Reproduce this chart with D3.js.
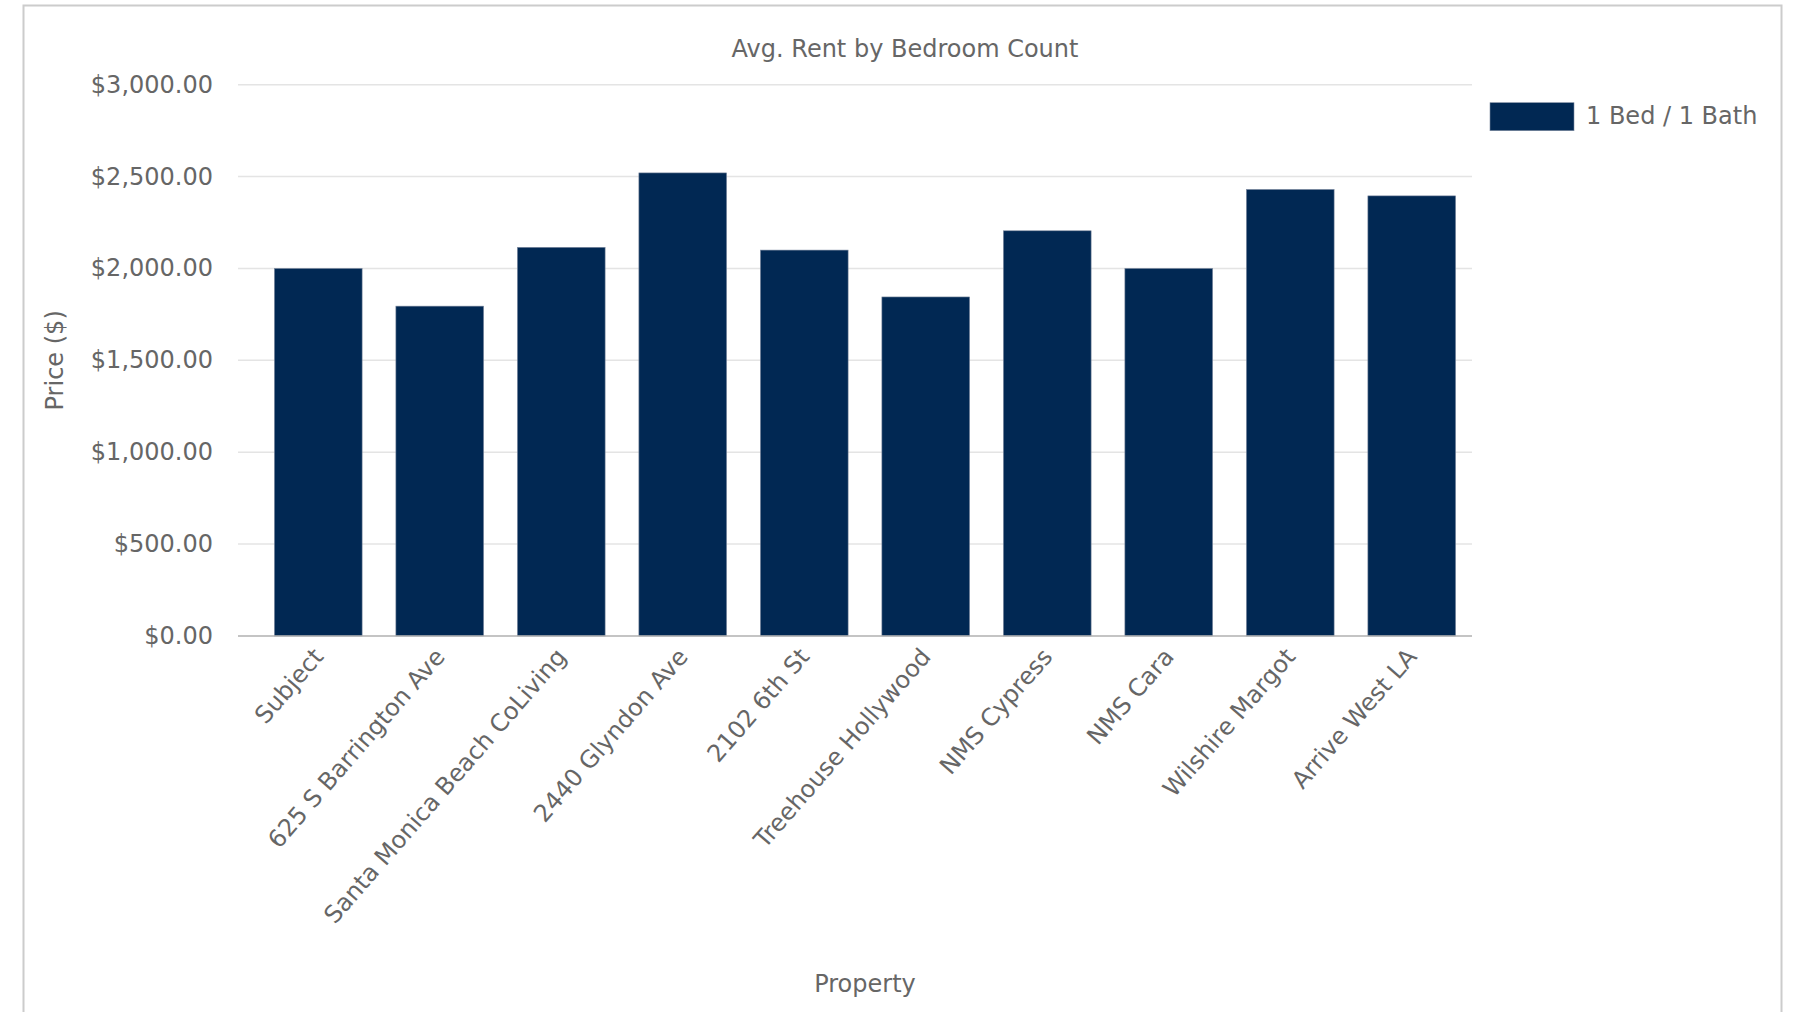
<!DOCTYPE html>
<html>
<head>
<meta charset="utf-8">
<script src="https://cdn.jsdelivr.net/npm/d3@7"></script>
<style>
  html, body { margin: 0; padding: 0; background: #ffffff; }
  svg { display: block; }
  text { font-family: "DejaVu Sans", sans-serif; fill: #666666; }
</style>
</head>
<body>
<svg id="chart" width="1809" height="1012"></svg>
<script>
// Average 1 bed / 1 bath rent per property
const properties = [
  "Subject",
  "625 S Barrington Ave",
  "Santa Monica Beach CoLiving",
  "2440 Glyndon Ave",
  "2102 6th St",
  "Treehouse Hollywood",
  "NMS Cypress",
  "NMS Cara",
  "Wilshire Margot",
  "Arrive West LA"
];
const rent1Bed1Bath = [2000, 1795, 2115, 2520, 2100, 1845, 2205, 2000, 2430, 2395];
const yTicks = [0, 500, 1000, 1500, 2000, 2500, 3000];
const seriesName = "1 Bed / 1 Bath";
const chartTitle = "Avg. Rent by Bedroom Count";
const xTitle = "Property";
const yTitle = "Price ($)";

const svg = d3.select("#chart");
const barColor = "#012853";
const fontSize = 24;

// Outer frame
svg.append("rect")
  .attr("x", 23.5).attr("y", 5.5)
  .attr("width", 1758).attr("height", 1100)
  .attr("fill", "none")
  .attr("stroke", "#cccccc")
  .attr("stroke-width", 2);

const plot = { left: 238, right: 1472, top: 84.7, bottom: 636 };

const x = d3.scaleBand()
  .domain(properties)
  .range([257.5, 1472.5])
  .paddingInner(0.278)
  .paddingOuter(0.139);

const y = d3.scaleLinear()
  .domain([0, 3000])
  .range([plot.bottom, plot.top]);

const fmt = v => "$" + d3.format(",.2f")(v);

// Gridlines
svg.append("g").selectAll("line")
  .data(yTicks.filter(t => t > 0))
  .join("line")
  .attr("x1", plot.left).attr("x2", plot.right)
  .attr("y1", d => y(d)).attr("y2", d => y(d))
  .attr("stroke", "#e4e4e4")
  .attr("stroke-width", 1.5);

// Y tick labels
svg.append("g").selectAll("text")
  .data(yTicks)
  .join("text")
  .attr("x", 213)
  .attr("y", d => y(d))
  .attr("dy", "0.33em")
  .attr("text-anchor", "end")
  .style("font-size", fontSize + "px")
  .text(fmt);

// Bars
svg.append("g").selectAll("rect")
  .data(properties.map((p, i) => ({ p, v: rent1Bed1Bath[i] })))
  .join("rect")
  .attr("x", d => x(d.p))
  .attr("y", d => y(d.v))
  .attr("width", x.bandwidth())
  .attr("height", d => y(0) - y(d.v))
  .attr("fill", barColor)
  .attr("stroke", "#7d8aa0")
  .attr("stroke-width", 0.6);

// Baseline axis
svg.append("line")
  .attr("x1", plot.left).attr("x2", plot.right)
  .attr("y1", y(0)).attr("y2", y(0))
  .attr("stroke", "#b0b0b0")
  .attr("stroke-width", 1.6);

// X tick labels, rotated
svg.append("g").selectAll("text")
  .data(properties)
  .join("text")
  .attr("transform", d => `translate(${x(d) + x.bandwidth() / 2},${y(0) + 16}) rotate(-49)`)
  .attr("text-anchor", "end")
  .attr("dy", "0.35em")
  .style("font-size", fontSize + "px")
  .text(d => d);

// Title
svg.append("text")
  .attr("x", 905).attr("y", 57)
  .attr("text-anchor", "middle")
  .style("font-size", fontSize + "px")
  .text(chartTitle);

// Axis titles
svg.append("text")
  .attr("x", (x.range()[0] + x.range()[1]) / 2)
  .attr("y", 992)
  .attr("text-anchor", "middle")
  .style("font-size", fontSize + "px")
  .text(xTitle);

svg.append("text")
  .attr("transform", `translate(63,${(plot.top + plot.bottom) / 2}) rotate(-90)`)
  .attr("text-anchor", "middle")
  .style("font-size", fontSize + "px")
  .text(yTitle);

// Legend
const legend = svg.append("g").attr("transform", "translate(1490,102.7)");
legend.append("rect")
  .attr("width", 84).attr("height", 28)
  .attr("fill", barColor)
  .attr("stroke", "#7d8aa0")
  .attr("stroke-width", 0.6);
legend.append("text")
  .attr("x", 96).attr("y", 13)
  .attr("dy", "0.36em")
  .style("font-size", fontSize + "px")
  .text(seriesName);
</script>
</body>
</html>
